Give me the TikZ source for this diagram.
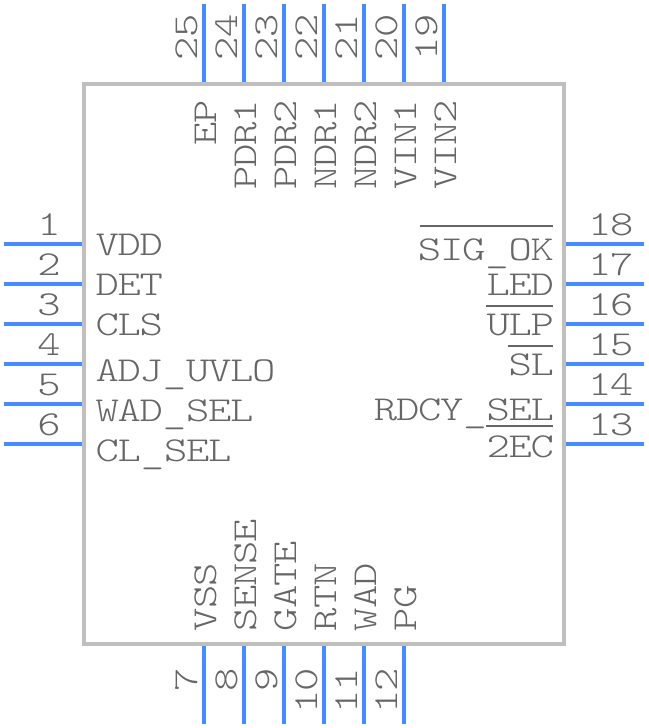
\documentclass[tikz,border=0pt]{standalone}
\usepackage{fontspec}
\newfontfamily\pinfont[FakeStretch=1.27,LetterSpace=-3.8]{Latin Modern Mono Light}
\definecolor{pinblue}{HTML}{468CFF}
\definecolor{bodygrey}{HTML}{BFBFBF}
\definecolor{txtgrey}{HTML}{666666}
\newcommand{\usc}{\raisebox{-2pt}{\_}}
\tikzset{
  body/.style={draw=bodygrey,line width=4pt},
  pin/.style={draw=pinblue,line width=4pt},
  over/.style={draw=txtgrey,line width=2pt},
  lab/.style={inner sep=0pt,outer sep=0pt,text=txtgrey,font=\pinfont\fontsize{35}{38}\selectfont},
}
\begin{document}
\begin{tikzpicture}[x=1pt,y=-1pt]
\useasboundingbox (0,0) rectangle (648,728);
\node[body,minimum width=480pt,minimum height=560pt,inner sep=0pt,outer sep=0pt,anchor=north west] (chip) at (84,84) {};
% left and right pins
\foreach \n/\m/\y in {1/18/244,2/17/284,3/16/324,4/15/364,5/14/404,6/13/444}{
  \coordinate (pl\n) at (4,\y); \coordinate (il\n) at (82,\y);
  \coordinate (pr\m) at (644,\y); \coordinate (ir\m) at (566,\y);
  \draw[pin] (pl\n) -- (il\n);
  \draw[pin] (ir\m) -- (pr\m);
  \node[lab,anchor=base] (n\n) at (49,\y-8.5) {\n};
  \node[lab,anchor=base west] (n\m) at (588,\y-8.5) {\m};
}
% top pins
\foreach \n/\x in {25/204,24/244,23/284,22/324,21/364,20/404,19/444}{
  \coordinate (pt\n) at (\x,4); \coordinate (it\n) at (\x,82);
  \draw[pin] (pt\n) -- (it\n);
  \node[lab,anchor=base west,rotate=90] (n\n) at (\x-6.5,60) {\n};
}
% bottom pins
\foreach \n/\x in {7/204,8/244,9/284,10/324,11/364,12/404}{
  \coordinate (pb\n) at (\x,724); \coordinate (ib\n) at (\x,646);
  \draw[pin] (ib\n) -- (pb\n);
  \node[lab,anchor=base east,rotate=90] (n\n) at (\x-6.5,668) {\n};
}
% left labels
\foreach \t/\y in {VDD/255.5,DET/295.5,CLS/335.5,ADJ\usc UVLO/381.5,WAD\usc SEL/421.5,CL\usc SEL/461.5}{
  \node[lab,anchor=base west] at (95.5,\y) {\t};
}
% right labels
\node[lab,anchor=base east] (sig) at (554,260.5) {SIG\usc OK};
\node[lab,anchor=base east] (led) at (554,295.5) {LED};
\node[lab,anchor=base east] (ulp) at (554,335.5) {ULP};
\node[lab,anchor=base east] (sl) at (554,375.5) {SL};
\node[lab,anchor=base east] (rdcy) at (554,420.5) {RDCY\usc SEL};
\node[lab,anchor=base east] (ec) at (554,457.5) {2EC};
% overlines
\coordinate (o1a) at (420,226); \coordinate (o1b) at (553,226);
\coordinate (o3a) at (486,306); \coordinate (o3b) at (553,306);
\coordinate (o4a) at (508,346); \coordinate (o4b) at (553,346);
\coordinate (o5a) at (486,426); \coordinate (o5b) at (553,426);
\foreach \k in {1,3,4,5}{\draw[over] (o\k a) -- (o\k b);}
% top labels
\foreach \t/\x in {EP/204,PDR1/244,PDR2/284,NDR1/324,NDR2/364,VIN1/404,VIN2/444}{
  \node[lab,anchor=base east,rotate=90] at (\x+12,100) {\t};
}
% bottom labels
\foreach \t/\x in {VSS/204,SENSE/244,GATE/284,RTN/324,WAD/364,PG/404}{
  \node[lab,anchor=base west,rotate=90] at (\x+12,631) {\t};
}
\end{tikzpicture}
\end{document}
